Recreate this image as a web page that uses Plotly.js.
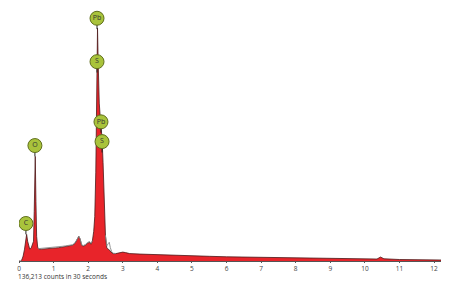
<!DOCTYPE html>
<html>
<head>
<meta charset="utf-8">
<script src="https://cdn.plot.ly/plotly-3.0.1.min.js"></script>
<style>html,body{margin:0;padding:0;background:#fff;}#chart{width:451px;height:282px;}</style>
</head>
<body>
<div id="chart"></div>
<script>
// Spectrum (energy in keV, counts)
const energy = [0.00,0.05,0.08,0.12,0.16,0.19,0.22,0.25,0.28,0.31,0.35,0.39,0.42,0.44,0.46,0.47,0.49,0.51,0.54,0.58,0.65,0.75,0.85,0.95,1.05,1.15,1.25,1.35,1.45,1.55,1.62,1.68,1.73,1.77,1.81,1.86,1.92,1.98,2.04,2.08,2.12,2.16,2.19,2.22,2.25,2.27,2.29,2.32,2.36,2.40,2.43,2.46,2.50,2.54,2.58,2.62,2.66,2.72,2.80,2.90,3.00,3.08,3.20,3.50,4.00,4.50,5.00,5.50,6.00,6.50,7.00,7.50,8.00,8.50,9.00,9.50,10.00,10.35,10.45,10.55,11.00,11.50,12.00,12.20];
const counts = [0,0,40,200,480,880,1080,800,560,480,520,640,800,2000,3800,4240,2400,1000,560,480,480,500,510,520,530,540,560,580,600,640,720,880,1000,880,640,600,640,720,760,680,800,1200,1800,3600,6800,9440,8000,6400,5600,5000,4000,2400,1000,520,480,440,360,300,300,320,360,340,300,280,250,230,210,190,170,160,140,130,120,100,90,80,75,80,160,90,60,50,40,40];
// Fitted outline (grey), null = gap
const fitEnergy = [0.55,0.65,0.75,0.85,0.95,1.05,1.15,1.25,1.35,1.45,1.55,1.62,1.68,1.73,1.77,1.81,1.86,1.92,1.98,2.04,2.08,2.12,null,2.50,2.54,2.58,2.61,2.64,2.68,2.72,2.80];
const fitCounts = [500,510,530,545,555,565,575,595,615,635,660,740,890,1000,890,660,630,670,750,790,720,820,null,1040,620,700,760,540,380,315,305];
// Element labels
const labelNames = ["Pb","S","Pb","S","O","C"];
const labelEnergy = [2.255,2.255,2.37,2.40,0.46,0.20];
const labelCounts = [9840,8080,5640,4840,4680,1520];
const tickVals = [0,1,2,3,4,5,6,7,8,9,10,11,12];
const caption = "136,213 counts in 30 seconds";

const stickLen = 440;
const sx = [], sy = [];
labelEnergy.forEach((e,i)=>{ sx.push(e,e,null); sy.push(labelCounts[i], labelCounts[i]-stickLen, null); });

const traces = [
  {x: energy, y: counts, type:'scatter', mode:'lines', fill:'tozeroy',
   fillcolor:'#e8242a', line:{color:'#4a1a1a', width:0.8}, hoverinfo:'skip'},
  {x: fitEnergy, y: fitCounts, type:'scatter', mode:'lines', connectgaps:false,
   line:{color:'#8a8a8a', width:0.9}, hoverinfo:'skip'},
  {x: sx, y: sy, type:'scatter', mode:'lines', line:{color:'#222', width:1}, hoverinfo:'skip'},
  {x: labelEnergy, y: labelCounts, type:'scatter', mode:'markers+text', text: labelNames,
   textposition:'middle center', textfont:{size:7, color:'#333', family:'Open Sans, sans-serif'},
   marker:{size:14, color:'#a9c33b', line:{color:'#5f6e1c', width:1}}, hoverinfo:'skip'}
];

const layout = {
  width:451, height:282,
  margin:{l:19, r:10, t:0, b:21},
  paper_bgcolor:'#fff', plot_bgcolor:'#fff',
  showlegend:false,
  font:{family:'Open Sans, sans-serif', size:6.5, color:'#444'},
  xaxis:{range:[0,12.2], tickvals:tickVals, ticktext:tickVals.map(String), showgrid:false, zeroline:false,
         showline:true, linecolor:'#555', linewidth:1, ticks:'outside', ticklen:1, tickcolor:'#555',
         tickfont:{size:6.5, color:'#444'}},
  yaxis:{range:[0,10580], visible:false, showgrid:false, zeroline:false},
  annotations:[{text:caption, xref:'paper', yref:'paper', x:0, y:0, xanchor:'left', yanchor:'bottom',
    xshift:-2, yshift:-21, borderpad:0, showarrow:false, font:{size:6.5, color:'#333'}}]
};
Plotly.newPlot('chart', traces, layout, {displayModeBar:false, staticPlot:true});
</script>
</body>
</html>
